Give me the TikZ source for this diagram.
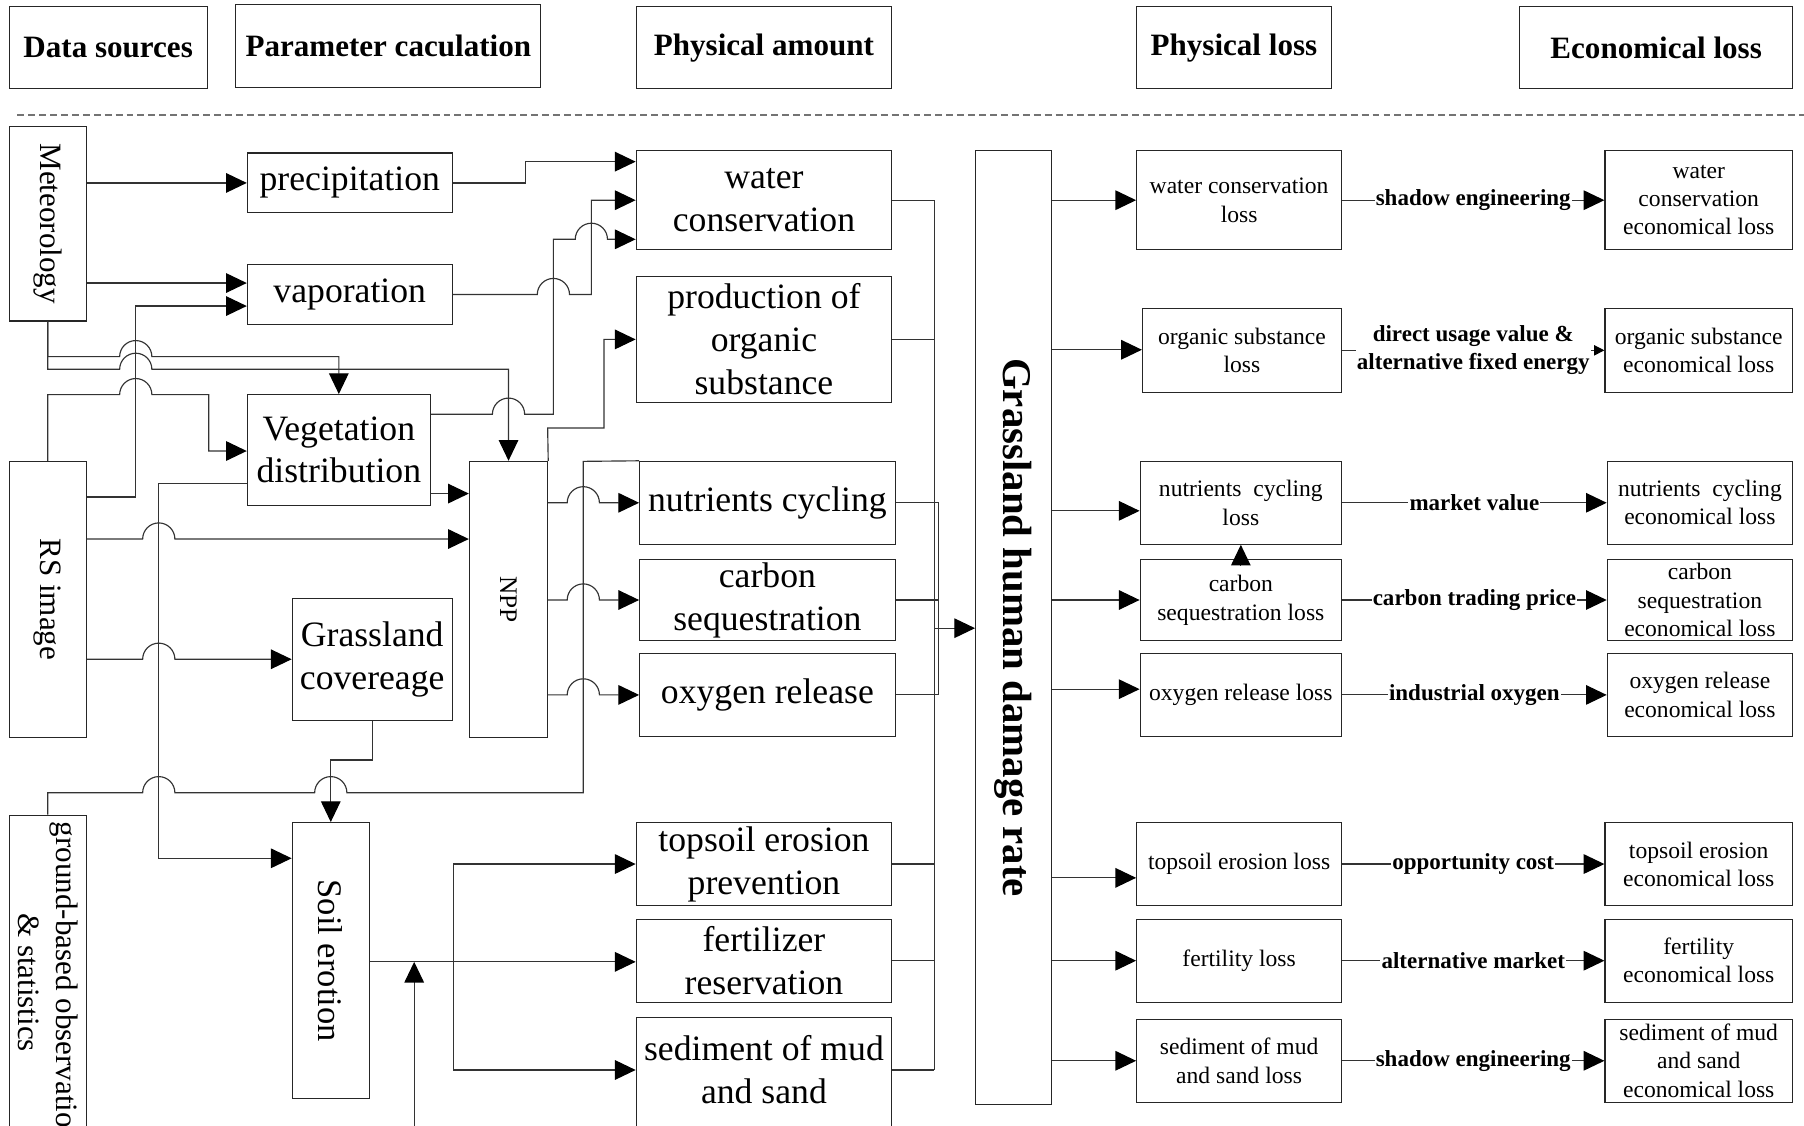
\documentclass[tikz,border=0pt]{standalone}
\usepackage{fontspec}
\setmainfont{Liberation Serif}
\usetikzlibrary{arrows.meta}
\newcommand\myfs[2]{\fontsize{#1}{#2}\selectfont}
\begin{document}
\begin{tikzpicture}[x=1pt,y=-1pt,
  line/.style={draw=black!80, line width=1pt},
  arr/.style={line, -{Triangle[length=18pt,width=17pt,color=black]}},
  sarr/.style={line, -{Triangle[length=9pt,width=9pt,color=black]}},
  box/.style={draw=black!85, line width=1pt, inner sep=0pt, align=center, font=\myfs{31}{37.5}},
  hdr/.style={box, font=\myfs{27}{32}\bfseries, minimum height=71pt},
  sbox/.style={box, font=\myfs{20.5}{25}},
  ebox/.style={box, font=\myfs{20.5}{24.5}},
  vtext/.style={rotate=-90, inner sep=0pt, align=center},
  elab/.style={fill=white, inner sep=1pt, align=center, font=\myfs{20}{24}\bfseries},
]
\useasboundingbox (0,0) rectangle (1568,978);
\clip (0,0) rectangle (1568,978);

% ---------- headers ----------
\node[hdr, minimum width=172pt] (hData) at (94,41.5) {Data sources};
\node[hdr, minimum width=265pt, minimum height=72pt] (hParam) at (337.5,40) {Parameter caculation};
\node[hdr, minimum width=222pt] (hPhys) at (664,41.5) {Physical amount};
\node[hdr, minimum width=169pt] (hPloss) at (1072.5,41.5) {Physical loss};
\node[hdr, minimum width=237pt] (hEloss) at (1439.5,41.5) {Economical loss};
\coordinate (dashL) at (15,100);
\coordinate (dashR) at (1568,100);
\draw[black!55, line width=1.2pt, dash pattern=on 6pt off 3.5pt] (dashL) -- (dashR);

% ---------- data sources ----------
\node[box, minimum width=67pt, minimum height=169pt] (met) at (41.5,194.5) {};
\node[vtext, font=\myfs{27}{32}] (metT) at (met.center) {Meteorology};
\node[box, minimum width=67pt, minimum height=240pt] (rs) at (41.5,521) {};
\node[vtext, font=\myfs{27}{32}] (rsT) at (rs.center) {RS image};
\node[box, minimum width=67pt, minimum height=400pt, anchor=north] (gb) at (41.5,708) {};
\node[vtext, font=\myfs{27}{33}, anchor=west] (gbT) at (41.5,714) {ground-based observation\\\& statistics};

% ---------- parameters ----------
\node[box, minimum width=178pt, minimum height=52pt] (prec) at (304,159) {precipitation};
\node[box, minimum width=178pt, minimum height=52pt] (vap) at (304,256) {vaporation};
\node[box, minimum width=159pt, minimum height=96pt, font=\myfs{31}{36}] (veg) at (294.5,391) {Vegetation\\distribution};
\node[box, minimum width=139pt, minimum height=106pt, font=\myfs{31}{37}] (gcov) at (323.5,573) {Grassland\\covereage};
\node[box, minimum width=68pt, minimum height=240pt] (npp) at (442,521) {};
\node[vtext, font=\myfs{22}{26}] (nppT) at (npp.center) {NPP};
\node[box, minimum width=67pt, minimum height=240pt] (soil) at (287.5,835) {};
\node[vtext, font=\myfs{30}{36}] (soilT) at (soil.center) {Soil erotion};

% ---------- physical amount ----------
\node[box, minimum width=222pt, minimum height=86pt] (water) at (664,174) {water\\conservation};
\node[box, minimum width=222pt, minimum height=110pt] (prod) at (664,295) {production of\\organic\\substance};
\node[box, minimum width=222pt, minimum height=72pt] (nutr) at (667,437) {nutrients cycling};
\node[box, minimum width=222pt, minimum height=71pt] (carb) at (667,521.5) {carbon\\sequestration};
\node[box, minimum width=222pt, minimum height=72pt] (oxy) at (667,604) {oxygen release};
\node[box, minimum width=222pt, minimum height=72pt] (tops) at (664,751) {topsoil erosion\\prevention};
\node[box, minimum width=222pt, minimum height=72pt] (fert) at (664,835) {fertilizer\\reservation};
\node[box, minimum width=222pt, minimum height=200pt, anchor=north] (sedi) at (664,884) {};
\node[font=\myfs{31}{37.5}, align=center, inner sep=0pt] (sediT) at (664,930) {sediment of mud\\and sand};

% ---------- damage rate ----------
\node[box, minimum width=66pt, minimum height=829pt] (ghdr) at (881,545.5) {};
\node[vtext, font=\myfs{35.5}{40}\bfseries] (ghdrT) at (ghdr.center) {Grassland human damage rate};

% ---------- physical loss ----------
\node[sbox, minimum width=178pt, minimum height=86pt] (wl) at (1077,174) {water conservation\\loss};
\node[sbox, minimum width=173pt, minimum height=73pt] (ol) at (1079.5,304.5) {organic substance\\loss};
\node[sbox, minimum width=175pt, minimum height=72pt] (nl) at (1078.5,437) {nutrients\ \ cycling\\loss};
\node[sbox, minimum width=175pt, minimum height=71pt] (cl) at (1078.5,521.5) {carbon\\sequestration loss};
\node[sbox, minimum width=175pt, minimum height=72pt] (xl) at (1078.5,604) {oxygen release loss};
\node[sbox, minimum width=178pt, minimum height=72pt] (tl) at (1077,751) {topsoil erosion loss};
\node[sbox, minimum width=178pt, minimum height=72pt] (fl) at (1077,835) {fertility loss};
\node[sbox, minimum width=178pt, minimum height=72pt] (sl) at (1077,922) {sediment of mud\\and sand loss};

% ---------- economical loss ----------
\node[ebox, minimum width=163pt, minimum height=86pt] (we) at (1476.5,174) {water\\conservation\\economical loss};
\node[ebox, minimum width=163pt, minimum height=73pt] (oe) at (1476.5,304.5) {organic substance\\economical loss};
\node[ebox, minimum width=161pt, minimum height=72pt] (ne) at (1477.5,437) {nutrients\ \ cycling\\economical loss};
\node[ebox, minimum width=161pt, minimum height=71pt] (ce) at (1477.5,521.5) {carbon\\sequestration\\economical loss};
\node[ebox, minimum width=161pt, minimum height=72pt] (xe) at (1477.5,604) {oxygen release\\economical loss};
\node[ebox, minimum width=163pt, minimum height=72pt] (te) at (1476.5,751) {topsoil erosion\\economical loss};
\node[ebox, minimum width=163pt, minimum height=72pt] (fe) at (1476.5,835) {fertility\\economical loss};
\node[ebox, minimum width=163pt, minimum height=72pt] (se) at (1476.5,922) {sediment of mud\\and sand\\economical loss};

% ---------- loss -> economical loss ----------
\draw[arr] (wl.east) -- node[elab] (l1) {shadow engineering} (we.west);
\draw[sarr] (ol.east) -- node[elab] (l2) {direct usage value \&\\alternative fixed energy} (oe.west);
\draw[arr] (nl.east) -- node[elab] (l3) {market value} (ne.west);
\draw[arr] (cl.east) -- node[elab] (l4) {carbon trading price} (ce.west);
\draw[arr] (xl.east) -- node[elab] (l5) {industrial oxygen} (xe.west);
\draw[arr] (tl.east) -- node[elab] (l6) {opportunity cost} (te.west);
\draw[arr] (fl.east) -- node[elab] (l7) {alternative market} (fe.west);
\draw[arr] (sl.east) -- node[elab] (l8) {shadow engineering} (se.west);

% ---------- damage rate -> physical loss ----------
\foreach \n/\yy in {wl/174, ol/304, nl/444, cl/521.5, xl/599, tl/763, fl/835, sl/922}
  \draw[arr] (ghdr.east |- 0,\yy) -- (\n.west |- 0,\yy);
\draw[arr] ([yshift=-6pt]cl.north) -- (nl.south);

% ---------- physical amount -> bus -> damage rate ----------
\draw[line] (water.east) -- (812,174) -- (812,930);
\draw[line] (prod.east) -- (812,295);
\draw[line] (nutr.east) -- (816,437) -- (816,604);
\draw[line] (carb.east) -- (816,521.5);
\draw[line] (oxy.east) -- (816,604);
\draw[line] (tops.east) -- (812,751);
\draw[line] (fert.east) -- (812,835);
\draw[line] (sedi.east |- sediT) -- (812,930);
\coordinate (bus) at (812,546);
\draw[arr] (bus) -- (ghdr.west |- bus);

% ---------- left connectors ----------
\draw[arr] (met.east |- prec) -- (prec.west);
\draw[arr] (met.east |- 0,246) -- (vap.west |- 0,246);
\draw[arr] (rs.east |- 0,432) -- (118,432) -- (118,266) -- (vap.west |- 0,266);
\draw[arr] (met.south) -- (41.5,310) -- (104,310) arc[start angle=180,end angle=0,radius=14pt] -- (294.5,310) -- (veg.north);
\draw[arr] (met.south) -- (41.5,321) -- (104,321) arc[start angle=180,end angle=0,radius=14pt] -- (442,321) -- (npp.north);
\draw[arr] (rs.north) -- (41.5,343) -- (104,343) arc[start angle=180,end angle=0,radius=14pt] -- (181.5,343) -- (181.5,392) -- (veg.west |- 0,392);
\draw[arr] (veg.east |- 0,360) -- (428,360) arc[start angle=180,end angle=0,radius=14pt] -- (481,360) -- (481,208) -- (500,208) arc[start angle=180,end angle=0,radius=14pt] -- (water.west |- 0,208);
\draw[arr] (vap.east) -- (467,256) arc[start angle=180,end angle=0,radius=14pt] -- (514,256) -- (514,174) -- (water.west);
\draw[arr] (prec.east) -- (457,159) -- (457,140.5) -- (water.west |- 0,140.5);
\draw[arr] (veg.east |- 0,429) -- (npp.west |- 0,429);
\draw[arr] (veg.west |- 0,420) -- (138,420) -- (138,746) -- (soil.west |- 0,746);
\draw[arr] (rs.east |- 0,468.5) -- (124,468.5) arc[start angle=180,end angle=0,radius=14pt] -- (npp.west |- 0,468.5);
\draw[arr] (rs.east |- gcov) -- (124,573) arc[start angle=180,end angle=0,radius=14pt] -- (gcov.west);
\draw[arr] (gcov.south) -- (323.5,660.6) -- (287.5,660.6) -- (soil.north);
\draw[line] (gb.north) -- (41.5,689) -- (124,689) arc[start angle=180,end angle=0,radius=14pt] -- (273.5,689) arc[start angle=180,end angle=0,radius=14pt] -- (507,689) -- (507,401) -- (nutr.north west);
\draw[arr] (npp.north east) -- (476,372) -- (525,372) -- (525,295) -- (prod.west);
\foreach \t in {nutr,carb,oxy}
  \draw[arr] (npp.east |- \t) -- (493,0 |- \t) arc[start angle=180,end angle=0,radius=14pt] -- (\t.west);

% ---------- soil erosion outputs ----------
\coordinate (sj) at (394,836);
\draw[line] (soil.east |- sj) -- (sj);
\draw[arr] (sj) -- (394,751) -- (tops.west);
\draw[arr] (sj) -- (fert.west |- sj);
\draw[arr] (sj) -- (394,930) -- (sedi.west |- sediT);
\coordinate (upStart) at (360,1000);
\coordinate (upEnd) at (360,836);
\draw[arr] (upStart) -- (upEnd);
\end{tikzpicture}
\end{document}
